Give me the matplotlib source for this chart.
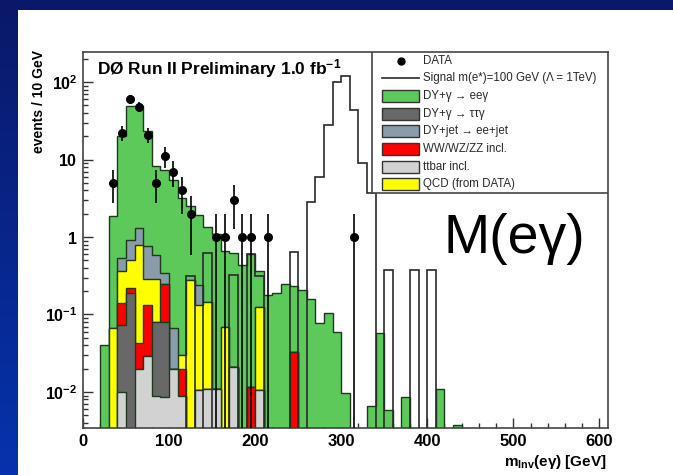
import numpy as np
import matplotlib
matplotlib.use('Agg')
import matplotlib.pyplot as plt
from matplotlib.patches import Rectangle
from matplotlib.lines import Line2D
from matplotlib.colors import LinearSegmentedColormap
from matplotlib.ticker import FixedLocator, FixedFormatter, LogLocator, NullFormatter, MultipleLocator

plt.rcParams['font.family'] = ['Liberation Sans', 'DejaVu Sans']
plt.rcParams['mathtext.fontset'] = 'custom'
plt.rcParams['mathtext.rm'] = 'Liberation Sans:bold'
plt.rcParams['mathtext.it'] = 'Liberation Sans:bold'
plt.rcParams['mathtext.bf'] = 'Liberation Sans:bold'

# ── binning: 10 GeV bins from 0 to 610 GeV ─────────────
edges = np.arange(0, 620, 10)

# each sample: low edge of the non-empty bins and the events in them
dyee_bins = [20, 30, 40, 50, 60, 70, 80, 90, 100, 110, 120, 130, 140, 150, 160, 170, 180, 190,
             200, 210, 220, 230, 240, 250, 260, 270, 280, 290, 300, 330, 340, 350, 370, 410, 430]
dyee_vals = [0.04, 1.80, 19.5, 48.1, 47.7, 22.7, 7.6, 6.9, 5.3, 3.17, 2.2, 1.66, 1.2, 1.08, 0.59, 0.60, 0.43, 0.59,
             0.24, 0.18, 0.19, 0.25, 0.20, 0.21, 0.16, 0.077, 0.106, 0.060, 0.0098, 0.0065, 0.057, 0.0059, 0.0087, 0.011, 0.0037]

tautau_bins = [40, 50, 80, 90]
tautau_vals = [0.063, 0.19, 0.072, 0.072]

dyjet_bins = [40, 50, 60, 70, 80, 90, 100, 130]
dyjet_vals = [0.17, 0.41, 0.50, 0.48, 0.30, 0.09, 0.047, 0.107]

diboson_bins = [40, 50, 60, 70, 90, 110, 190, 240]
diboson_vals = [0.067, 0.03, 0.023, 0.104, 0.169, 0.011, 0.0117, 0.033]

ttbar_bins = [40, 60, 70, 80, 90, 100, 110, 130, 140, 150, 170, 200]
ttbar_vals = [0.010, 0.020, 0.029, 0.009, 0.0087, 0.020, 0.0089, 0.0105, 0.011, 0.011, 0.021, 0.0106]

qcd_bins = [30, 40, 50, 60, 70, 80, 110, 120, 130, 140, 160, 200]
qcd_vals = [0.067, 0.22, 0.28, 0.757, 0.157, 0.209, 0.010, 0.28, 0.123, 0.136, 0.068, 0.115]

signal_bins = [120, 140, 170, 190, 200, 240, 260, 270, 280, 290, 300, 310, 320, 330, 350, 380, 400]
signal_vals = [0.31, 0.62, 0.32, 0.60, 0.31, 0.64, 2.8, 6.0, 28, 100, 120, 44, 9.0, 3.7, 0.375, 0.375, 0.375]

data_x = [35, 45, 55, 65, 75, 85, 95, 105, 115, 125, 155, 165, 175, 185, 195, 215, 315]
data_n = [5, 22, 60, 48, 21, 5, 11, 7, 4, 2, 1, 1, 3, 1, 1, 1, 1]

FLOOR = 1e-4   # stand-in for empty bins on the log axis


def to_hist(bins, vals):
    h = np.zeros(len(edges) - 1)
    h[np.array(bins) // 10] = vals
    return h


COL = {
    'eeg': '#5cc95a',
    'ttg': '#686868',
    'dyjet': '#8a9bab',
    'vv': '#ff0000',
    'ttbar': '#d2d2d2',
    'qcd': '#ffff00',
}

# stack order, bottom to top
stack = [
    (ttbar_bins, ttbar_vals, COL['ttbar']),
    (tautau_bins, tautau_vals, COL['ttg']),
    (diboson_bins, diboson_vals, COL['vv']),
    (qcd_bins, qcd_vals, COL['qcd']),
    (dyjet_bins, dyjet_vals, COL['dyjet']),
    (dyee_bins, dyee_vals, COL['eeg']),
]
hists = np.array([to_hist(b, v) for b, v, _ in stack])
cum = np.cumsum(hists, axis=0)

fig = plt.figure(figsize=(6.73, 4.75), dpi=100)

# slide background: blue border, white panel
bg = fig.add_axes([0, 0, 1, 1], zorder=-10)
grad = np.linspace(0, 1, 256).reshape(-1, 1)
blue = LinearSegmentedColormap.from_list('slide', ['#0a1868', '#0533ad'])
bg.imshow(grad, aspect='auto', cmap=blue, extent=[0, 1, 0, 1])
bg.add_patch(Rectangle((18 / 673, 0), 1, 1 - 10 / 475, facecolor='white', edgecolor='none'))
bg.set_xlim(0, 1)
bg.set_ylim(0, 1)
bg.axis('off')

ax = fig.add_axes([83 / 673, 47 / 475, 525 / 673, 376 / 475])
ax.set_yscale('log')

edge_col = '#1d3a1d'
# ROOT-style stack: draw the running sums from the top down
for k in range(len(stack) - 1, -1, -1):
    ax.stairs(np.clip(cum[k], FLOOR, None), edges, baseline=FLOOR, fill=True,
              facecolor=stack[k][2], edgecolor=edge_col, linewidth=1.0, zorder=2)

sig = to_hist(signal_bins, signal_vals)
ax.stairs(np.clip(sig, FLOOR, None), edges, baseline=FLOOR, fill=False,
          color='#2a2a2a', linewidth=1.2, zorder=3)

n = np.array(data_n, dtype=float)
err = np.sqrt(n)
lo = n - np.maximum(n - err, FLOOR)
ax.errorbar(data_x, n, yerr=[lo, err], fmt='o', color='black', markersize=5.5,
            elinewidth=1.2, capsize=0, zorder=5)

ax.set_xlim(0, 610)
ax.set_ylim(0.00343, 244)

ax.xaxis.set_major_locator(FixedLocator([0, 100, 200, 300, 400, 500, 600]))
ax.xaxis.set_minor_locator(MultipleLocator(20))
ax.yaxis.set_major_locator(FixedLocator([1e-2, 1e-1, 1, 10, 100]))
ax.yaxis.set_major_formatter(FixedFormatter(['$10^{-2}$', '$10^{-1}$', '$1$', '$10$', '$10^{2}$']))
ax.yaxis.set_minor_locator(LogLocator(base=10, subs=np.arange(2, 10)))
ax.yaxis.set_minor_formatter(NullFormatter())
ax.tick_params(axis='both', which='both', direction='in', top=False, right=False,
               color='#333333', width=1.0)
ax.tick_params(axis='both', which='major', length=7)
ax.tick_params(axis='both', which='minor', length=3.5)
ax.tick_params(axis='x', labelsize=12, pad=4)
ax.tick_params(axis='y', labelsize=11.5, pad=4)
for lbl in ax.get_xticklabels():
    lbl.set_fontweight('bold')
for s in ax.spines.values():
    s.set_color('#444444')
    s.set_linewidth(1.2)

ax.text(0.027, 0.957, 'DØ Run II Preliminary 1.0 fb$^{-1}$', transform=ax.transAxes,
        fontsize=12.5, fontweight='bold', va='center', ha='left', zorder=6)

fig.text(39 / 673, 1 - 50 / 475, 'events / 10 GeV', rotation=90, ha='center', va='top',
         fontsize=10, fontweight='bold')
fig.text(607 / 673, 1 - 462 / 475, r'm$_{\rm Inv}$(eγ) [GeV]', ha='right', va='center',
         fontsize=11, fontweight='bold')

# legend box in the upper right corner of the frame
legend_rows = [
    ('DATA', 'marker', None),
    ('Signal m(e*)=100 GeV (Λ = 1TeV)', 'line', None),
    ('DY+γ → eeγ', 'box', COL['eeg']),
    ('DY+γ → ττγ', 'box', COL['ttg']),
    ('DY+jet → ee+jet', 'box', COL['dyjet']),
    ('WW/WZ/ZZ incl.', 'box', COL['vv']),
    ('ttbar incl.', 'box', COL['ttbar']),
    ('QCD (from DATA)', 'box', COL['qcd']),
]
lx0, ly0 = (372 - 83) / 525, (428 - 193) / 376
ax.add_patch(Rectangle((lx0, ly0), 1 - lx0, 1 - ly0, transform=ax.transAxes,
                       facecolor='white', edgecolor='#444444', linewidth=1.2, zorder=7))
row_h = (193 - 52) / len(legend_rows)
sym_x0, sym_x1 = (382 - 83) / 525, (419 - 83) / 525
txt_x = (423 - 83) / 525
for i, (label, kind, col) in enumerate(legend_rows):
    yc = (428 - (52 + row_h * (i + 0.5))) / 376
    if kind == 'marker':
        ax.add_line(Line2D([(sym_x0 + sym_x1) / 2], [yc], marker='o', markersize=5, color='black',
                           transform=ax.transAxes, zorder=8))
    elif kind == 'line':
        ax.add_line(Line2D([sym_x0, sym_x1], [yc, yc], color='#2a2a2a', linewidth=1.2,
                           transform=ax.transAxes, zorder=8))
    else:
        h = 12 / 376
        ax.add_patch(Rectangle((sym_x0, yc - h / 2), sym_x1 - sym_x0, h, transform=ax.transAxes,
                               facecolor=col, edgecolor='#333333', linewidth=1.0, zorder=8))
    ax.text(txt_x, yc, label, transform=ax.transAxes, fontsize=8.3, va='center', ha='left',
            color='#2a2a2a', zorder=8)

fig.text(443 / 673, 1 - 253 / 475, 'M(eγ)', fontsize=40, ha='left', va='baseline')

fig.savefig('out.png', dpi=100)
